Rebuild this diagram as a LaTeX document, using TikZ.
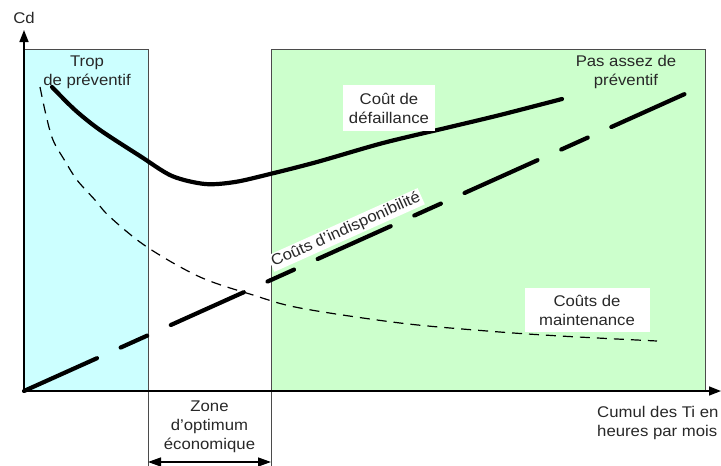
\documentclass[tikz,border=0pt]{standalone}
\usepackage{fontspec}
\setmainfont[FakeStretch=1.08]{Liberation Sans}
\usetikzlibrary{arrows.meta}
\definecolor{zoneblue}{RGB}{204,255,255}
\definecolor{zonegreen}{RGB}{204,255,204}
\definecolor{edgegray}{RGB}{75,75,75}
\definecolor{txt}{RGB}{40,40,40}
\begin{document}
\begin{tikzpicture}[x=1pt,y=-1pt,
  lbl/.style={text=txt, font=\fontsize{15.5}{19}\selectfont, align=center, inner sep=0pt},
  boxlbl/.style={lbl, fill=white},
  zonebox/.style={draw=edgegray, line width=0.9pt},
  axisline/.style={line width=1.6pt, -{Triangle[length=12pt,width=9pt]}},
  solidcurve/.style={line width=4.2pt, line cap=round, line join=round},
  thindash/.style={line width=1.2pt, dash pattern=on 10pt off 7pt},
  longdash/.style={line width=4.2pt, line cap=round, dash pattern=on 80pt off 26pt on 29pt off 26pt},
  guide/.style={draw=edgegray, line width=0.9pt},
  span/.style={line width=1.4pt, {Triangle[length=13pt,width=9pt]}-{Triangle[length=13pt,width=9pt]}}
]
\useasboundingbox (0,0) rectangle (721,466);
\fill[white] (0,0) rectangle (721,466);

% zones
\draw[zonebox, fill=zoneblue] (24,49) rectangle (148,391);
\draw[zonebox, fill=zonegreen] (271,49) rectangle (705,391);

% coordinates
\coordinate (O) at (24,391);
\coordinate (ytop) at (24,30);
\coordinate (xend) at (721,391);
\coordinate (ga) at (148,391);
\coordinate (gab) at (148,466);
\coordinate (gb) at (271,391);
\coordinate (gbb) at (271,466);
\coordinate (za) at (148,462);
\coordinate (zb) at (271,462);
\coordinate (dend) at (687,93);

% guides below axis
\draw[guide] (ga) -- (gab);
\draw[guide] (gb) -- (gbb);
\draw[span] (za) -- (zb);

% curves
\draw[thindash] plot[smooth, tension=0.55] coordinates {(40,87) (46,115) (53,140) (65,161) (77,180) (95,200) (110,217) (147,247) (200,277) (253,295) (300,308) (400,323) (487,331) (560,336) (657,341)};
\draw[solidcurve] plot[smooth, tension=0.5] coordinates {(52,87) (75,110) (100,130) (140,156) (172,176) (205,184) (235,182) (270,174) (317,162) (383,143) (450,127) (500,115) (562,99)};
\draw[longdash] (O) -- (dend);

% axes
\draw[axisline] (O) -- (ytop);
\draw[axisline] (O) -- (xend);

% labels
\node[lbl] (cd) at (24,18) {Cd};
\node[lbl] (trop) at (87,72) {Trop\\de préventif};
\node[lbl] (pas) at (626,72) {Pas assez de\\préventif};
\node[boxlbl, minimum width=92pt, minimum height=46pt] (defl) at (389,108) {Coût de\\défaillance};
\node[boxlbl, minimum width=125pt, minimum height=44pt] (maint) at (587,310) {Coûts de\\maintenance};
\node[boxlbl, inner sep=1.5pt, rotate=24.2] (indisp) at (346,230) {Coûts d'indisponibilité};
\node[lbl] (zone) at (209.5,427) {Zone\\d'optimum\\économique};
\node[lbl, anchor=west, align=left] (xl) at (597,423) {Cumul des Ti en\\heures par mois};
\end{tikzpicture}
\end{document}
